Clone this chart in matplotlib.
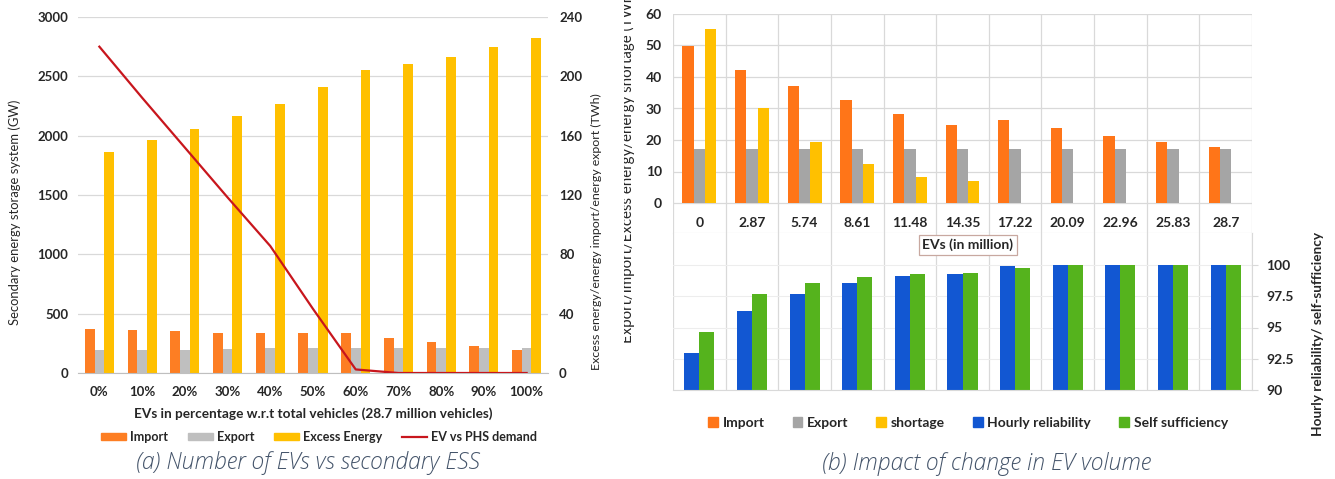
import matplotlib
matplotlib.use("Agg")
import matplotlib.pyplot as plt
import numpy as np
from matplotlib.patches import Patch
from matplotlib.lines import Line2D
from matplotlib.transforms import Bbox, TransformedBbox

# ---------------- data ----------------
pct_labels = ["0%", "10%", "20%", "30%", "40%", "50%", "60%", "70%", "80%", "90%", "100%"]
import_twh = [29.9, 29.0, 28.0, 27.2, 26.8, 27.2, 27.2, 23.8, 20.6, 17.9, 15.7]
export_twh = [15.5, 15.5, 15.6, 16.0, 16.6, 17.0, 17.0, 17.0, 17.0, 16.9, 17.0]
excess_twh = [149.2, 157.2, 164.8, 173.2, 181.6, 192.8, 204.0, 208.0, 213.2, 219.6, 226.0]
phs_demand_gw = [2750, 2320, 1900, 1480, 1070, 540, 30, 0, 0, 0, 0]

ev_million = ["0", "2.87", "5.74", "8.61", "11.48", "14.35", "17.22", "20.09", "22.96", "25.83", "28.7"]
import_b = [49.9, 42.3, 37.2, 32.6, 28.3, 24.7, 26.4, 23.8, 21.2, 19.5, 17.9]
export_b = [17.0, 17.0, 17.0, 17.0, 17.0, 17.0, 17.0, 17.0, 17.0, 17.0, 17.0]
shortage_b = [55.3, 30.1, 19.5, 12.4, 8.2, 7.0, 0, 0, 0, 0, 0]
reliability = [93.0, 96.35, 97.65, 98.6, 99.1, 99.25, 99.95, 100, 100, 100, 100]
self_suff = [94.67, 97.65, 98.6, 99.04, 99.3, 99.4, 99.8, 100, 100, 100, 100]

# ---------------- style ----------------
FONT = ["Lato", "DejaVu Sans"]
plt.rcParams["font.family"] = FONT
TXT = "#262626"
GRID = "#D9D9D9"
C_IMP_A, C_EXP_A, C_EXC = "#FD7E23", "#BFBFBF", "#FFC000"
C_LINE = "#C8161D"
C_IMP_B, C_EXP_B, C_SHORT = "#FF7518", "#A5A5A5", "#FFC000"
C_REL, C_SELF = "#1257D2", "#55B31D"
CAPTION = "#44546A"

W, H = 1335, 479
fig = plt.figure(figsize=(W / 100, H / 100), dpi=100)


def add_px_axes(x0, y0, x1, y1):
    return fig.add_axes([x0 / W, 1 - y1 / H, (x1 - x0) / W, (y1 - y0) / H])


def fx(px):
    return px / W


def fy(py):
    return 1 - py / H


# ================= (a) EVs vs secondary ESS =================
axL = add_px_axes(78, 17, 548, 373)
axR = axL.twinx()
axL.set_zorder(2)
axL.patch.set_visible(False)
axR.set_zorder(1)

x = np.arange(len(pct_labels))
bw = 0.227
axR.bar(x - bw, import_twh, bw, color=C_IMP_A, zorder=2)
axR.bar(x, export_twh, bw, color=C_EXP_A, zorder=2)
axR.bar(x + bw, excess_twh, bw, color=C_EXC, zorder=2)
axL.plot(x, phs_demand_gw, color=C_LINE, lw=1.6, zorder=3)

axL.set_xlim(-0.5, len(x) - 0.5)
axL.set_ylim(0, 3000)
axR.set_ylim(0, 240)
axL.set_yticks(range(0, 3001, 500))
axR.set_yticks(range(0, 241, 40))
axL.set_xticks(x, pct_labels)
axL.set_xticks(np.arange(-0.5, len(x), 1), minor=True)

axR.set_axisbelow(True)
axR.grid(axis="y", color=GRID, lw=0.9)
axR.xaxis.grid(True, which="minor", color=GRID, lw=0.9)
for a in (axL, axR):
    for s in a.spines.values():
        s.set_visible(False)
    a.tick_params(length=0, which="both")
axL.spines["bottom"].set_visible(True)
axL.spines["bottom"].set_color("#BFBFBF")
axL.tick_params(axis="x", pad=9, labelsize=9.5, labelcolor=TXT)
axL.tick_params(axis="y", pad=7, labelsize=9.5, labelcolor=TXT)
axR.tick_params(axis="y", pad=8, labelsize=9.5, labelcolor=TXT)
for lab in axL.get_xticklabels() + axL.get_yticklabels() + axR.get_yticklabels():
    lab.set_fontweight("bold")

fig.text(fx(15), fy(212), "Secondary energy storage system (GW)", rotation=90,
         ha="center", va="center", fontsize=9.4, color=TXT)
fig.text(fx(596), fy(232), "Excess energy/energy import/energy export (TWh)", rotation=90,
         ha="center", va="center", fontsize=8.9, color=TXT)
fig.text(fx(313), fy(414), "EVs in percentage w.r.t total vehicles (28.7 million vehicles)",
         ha="center", va="center", fontsize=9.8, fontweight="bold", color=TXT)

handles_a = [Patch(color=C_IMP_A), Patch(color=C_EXP_A), Patch(color=C_EXC),
             Line2D([], [], color=C_LINE, lw=1.6)]
leg_a = fig.legend(handles_a, ["Import", "Export", "Excess Energy", "EV vs PHS demand"],
                   loc="center", bbox_to_anchor=(fx(319), fy(437)), ncol=4, frameon=False,
                   handlelength=2.0, handleheight=0.55, handletextpad=0.3, columnspacing=1.6,
                   prop={"family": FONT, "size": 9, "weight": "bold"})
for t in leg_a.get_texts():
    t.set_color(TXT)

fig.text(fx(308), fy(463), "(a) Number of EVs vs secondary ESS", ha="center", va="center",
         fontsize=16.5, style="italic", fontweight="light", color=CAPTION,
         family=["Open Sans", "DejaVu Sans"])

# ================= (b) Impact of change in EV volume =================
X0, X1 = 673, 1252
axT = add_px_axes(X0, 14, X1, 233)
axB = add_px_axes(X0, 233, X1, 390)

xb = np.arange(len(ev_million))
w3 = 0.215
axT.bar(xb - w3, import_b, w3, color=C_IMP_B, zorder=2)
axT.bar(xb, export_b, w3, color=C_EXP_B, zorder=2)
axT.bar(xb + w3, shortage_b, w3, color=C_SHORT, zorder=2)

top_lo = -(233 - 203) / ((203 - 14) / 60.0)
axT.set_ylim(top_lo, 60)
axT.set_yticks(range(0, 61, 10))
axT.set_xlim(-0.5, len(xb) - 0.5)
axT.set_xticks(np.arange(-0.5, len(xb), 1), minor=True)
axT.set_xticks([])
axT.set_axisbelow(True)
axT.grid(axis="y", color=GRID, lw=0.9)
axT.xaxis.grid(True, which="minor", color=GRID, lw=0.9)
for s in axT.spines.values():
    s.set_visible(False)
axT.spines["bottom"].set_visible(True)
axT.spines["bottom"].set_color(GRID)
axT.tick_params(length=0, which="both")
axT.tick_params(axis="y", pad=8, labelsize=10, labelcolor=TXT)
for lab in axT.get_yticklabels():
    lab.set_fontweight("bold")
for i, lab in enumerate(ev_million):
    axT.text(xb[i], -6.35, lab, ha="center", va="center", fontsize=10,
             fontweight="bold", color=TXT)

w2 = 0.285
base = 90
axB.bar(xb - w2 / 2, np.array(reliability) - base, w2, bottom=base, color=C_REL, zorder=2)
axB.bar(xb + w2 / 2, np.array(self_suff) - base, w2, bottom=base, color=C_SELF, zorder=2)
axB.set_ylim(90, 100 + (265 - 233) / ((390 - 265) / 10.0))
axB.set_yticks([90, 92.5, 95, 97.5, 100], ["90", "92.5", "95", "97.5", "100"])
axB.set_xlim(-0.5, len(xb) - 0.5)
axB.set_xticks([])
axB.set_xticks(np.arange(-0.5, len(xb), 1), minor=True)
axB.set_axisbelow(True)
axB.grid(axis="y", color="#EDEDED", lw=0.8)
axB.xaxis.grid(True, which="minor", color=GRID, lw=0.9)
axB.yaxis.tick_right()
for s in axB.spines.values():
    s.set_visible(False)
axB.spines["right"].set_visible(True)
axB.spines["right"].set_color(GRID)
axB.spines["bottom"].set_visible(True)
axB.spines["bottom"].set_color(GRID)
axB.tick_params(axis="x", length=0, which="both")
axB.tick_params(axis="y", length=4, color=GRID, pad=6, labelsize=10, labelcolor=TXT)
for lab in axB.get_yticklabels():
    lab.set_fontweight("bold")
axB.text(5.1, 101.6, "EVs (in million)", ha="center", va="center", fontsize=10,
         fontweight="bold", color=TXT,
         bbox=dict(boxstyle="square,pad=0.25", fc="white", ec="#C8A8A0", lw=0.9))

ylab_b = fig.text(fx(627), fy(343), "Export/Import/Excess energy/energy shortage (TWh)",
                  rotation=90, ha="center", va="bottom", fontsize=10.8, color=TXT)
ylab_b.set_clip_box(TransformedBbox(Bbox.from_extents(fx(624), 0, 1, 1), fig.transFigure))
ylab_b.set_clip_on(True)

fig.text(fx(1318), fy(334), "Hourly reliability/ self-sufficiency", rotation=90,
         ha="center", va="center", fontsize=9.8, fontweight="bold", color=TXT)

handles_b = [Patch(color=C_IMP_B), Patch(color=C_EXP_B), Patch(color=C_SHORT),
             Patch(color=C_REL), Patch(color=C_SELF)]
leg_b = fig.legend(handles_b, ["Import", "Export", "shortage", "Hourly reliability", "Self sufficiency"],
                   loc="center", bbox_to_anchor=(fx(968), fy(423)), ncol=5, frameon=False,
                   handlelength=0.7, handleheight=0.7, handletextpad=0.35, columnspacing=2.0,
                   prop={"family": FONT, "size": 10, "weight": "bold"})
for t in leg_b.get_texts():
    t.set_color(TXT)

fig.text(fx(987), fy(464), "(b) Impact of change in EV volume", ha="center", va="center",
         fontsize=16.5, style="italic", fontweight="light", color=CAPTION,
         family=["Open Sans", "DejaVu Sans"])

fig.savefig("out.png", dpi=100, facecolor="white")
